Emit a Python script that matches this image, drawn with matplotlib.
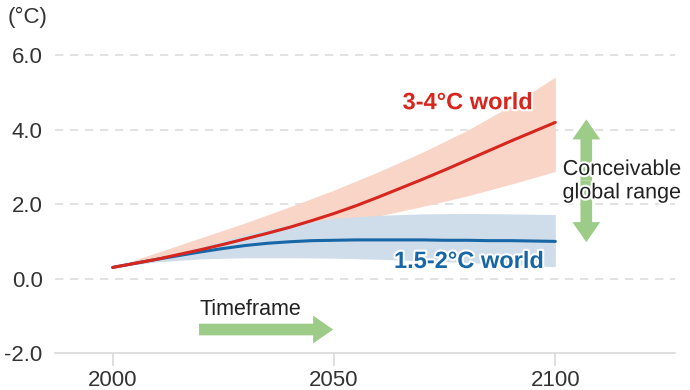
import numpy as np
import matplotlib.pyplot as plt
import matplotlib.patheffects as pe
from matplotlib.patches import FancyArrowPatch

plt.rcParams['font.family'] = ['Liberation Sans', 'DejaVu Sans']

# values
years_fine = [2000, 2005, 2010, 2015, 2020, 2025, 2030, 2035, 2040, 2045, 2050,
              2055, 2060, 2065, 2070, 2075, 2080, 2085, 2090, 2095, 2100]
red_line = [0.3, 0.41, 0.52, 0.65, 0.78, 0.92, 1.07, 1.22, 1.38, 1.56, 1.75,
            1.96, 2.19, 2.43, 2.67, 2.92, 3.18, 3.44, 3.7, 3.95, 4.2]
blue_line = [0.3, 0.41, 0.52, 0.62, 0.72, 0.81, 0.89, 0.95, 0.99, 1.02, 1.03,
             1.04, 1.04, 1.04, 1.04, 1.03, 1.03, 1.02, 1.02, 1.01, 1.0]

years = [2000, 2010, 2020, 2030, 2040, 2050, 2060, 2070, 2080, 2090, 2100]
red_hi = [0.3, 0.7, 1.1, 1.5, 1.93, 2.38, 2.87, 3.4, 3.98, 4.65, 5.42]
red_lo = [0.3, 0.48, 0.7, 0.93, 1.17, 1.42, 1.68, 1.94, 2.22, 2.54, 2.88]
blue_hi = [0.3, 0.55, 0.85, 1.18, 1.45, 1.62, 1.7, 1.74, 1.75, 1.74, 1.72]
blue_lo = [0.3, 0.45, 0.53, 0.56, 0.56, 0.55, 0.52, 0.48, 0.43, 0.38, 0.32]

yticks = [-2, 0, 2, 4, 6]
xticks = [2000, 2050, 2100]

red = '#d7261e'
blue = '#1766a6'
green = '#9ccc87'
halo = [pe.withStroke(linewidth=3, foreground='white')]

fig = plt.figure(figsize=(6.9, 3.9), dpi=100)
ax = fig.add_axes([0.08, 0.095, 0.898, 0.82])

ax.fill_between(years, red_lo, red_hi, color='#f8d5c6', lw=0, zorder=1)
ax.fill_between(years, blue_lo, blue_hi, color='#cfdcea', lw=0, zorder=2)
ax.plot(years_fine, red_line, color=red, lw=2.2, zorder=4, solid_capstyle='round')
ax.plot(years_fine, blue_line, color=blue, lw=2.2, zorder=3, solid_capstyle='round')

ax.set_xlim(1987, 2127)
ax.set_ylim(-2, 6.6)
ax.set_yticks(yticks)
ax.set_yticklabels([f'{v:.1f}' for v in yticks])
ax.set_xticks(xticks)
for v in yticks[1:]:
    ax.axhline(v, color='#dddddd', lw=1.2, ls=(0, (5, 4)), zorder=0)

for s in ['top', 'right', 'left']:
    ax.spines[s].set_visible(False)
ax.spines['bottom'].set_color('#d9d9d9')
ax.spines['bottom'].set_linewidth(1.2)
ax.tick_params(axis='y', length=0, pad=9, labelsize=16, labelcolor='#333333')
ax.tick_params(axis='x', length=9, width=1.2, color='#d9d9d9', pad=3,
               labelsize=16, labelcolor='#333333')

# arrows
style = 'simple,tail_width=0.42,head_width=1.0,head_length=0.72'
for a, b in [((2107, 2.64), (2107, 4.28)), ((2107, 2.64), (2107, 0.98)),
             ((2019.5, -1.37), (2049.8, -1.37))]:
    ax.add_patch(FancyArrowPatch(a, b, arrowstyle=style, mutation_scale=20,
                                 color=green, lw=0, shrinkA=0, shrinkB=0,
                                 zorder=5))

ax.text(2080.2, 4.73, '3-4°C world', color=red, fontsize=17, fontweight='bold',
        ha='center', va='center', path_effects=halo, zorder=6)
ax.text(2080.5, 0.46, '1.5-2°C world', color=blue, fontsize=17, fontweight='bold',
        ha='center', va='center', path_effects=halo, zorder=6)
ax.text(2115, 2.62, 'Conceivable\nglobal range', color='#222222', fontsize=15.5,
        ha='center', va='center', linespacing=1.15, path_effects=halo, zorder=6)
ax.text(2019.5, -0.83, 'Timeframe', color='#222222', fontsize=15.5,
        ha='left', va='center', zorder=6)

fig.text(0.011, 0.955, '(°C)', fontsize=16, color='#333333', ha='left', va='center')

fig.savefig('out.png', dpi=100, facecolor='white')
